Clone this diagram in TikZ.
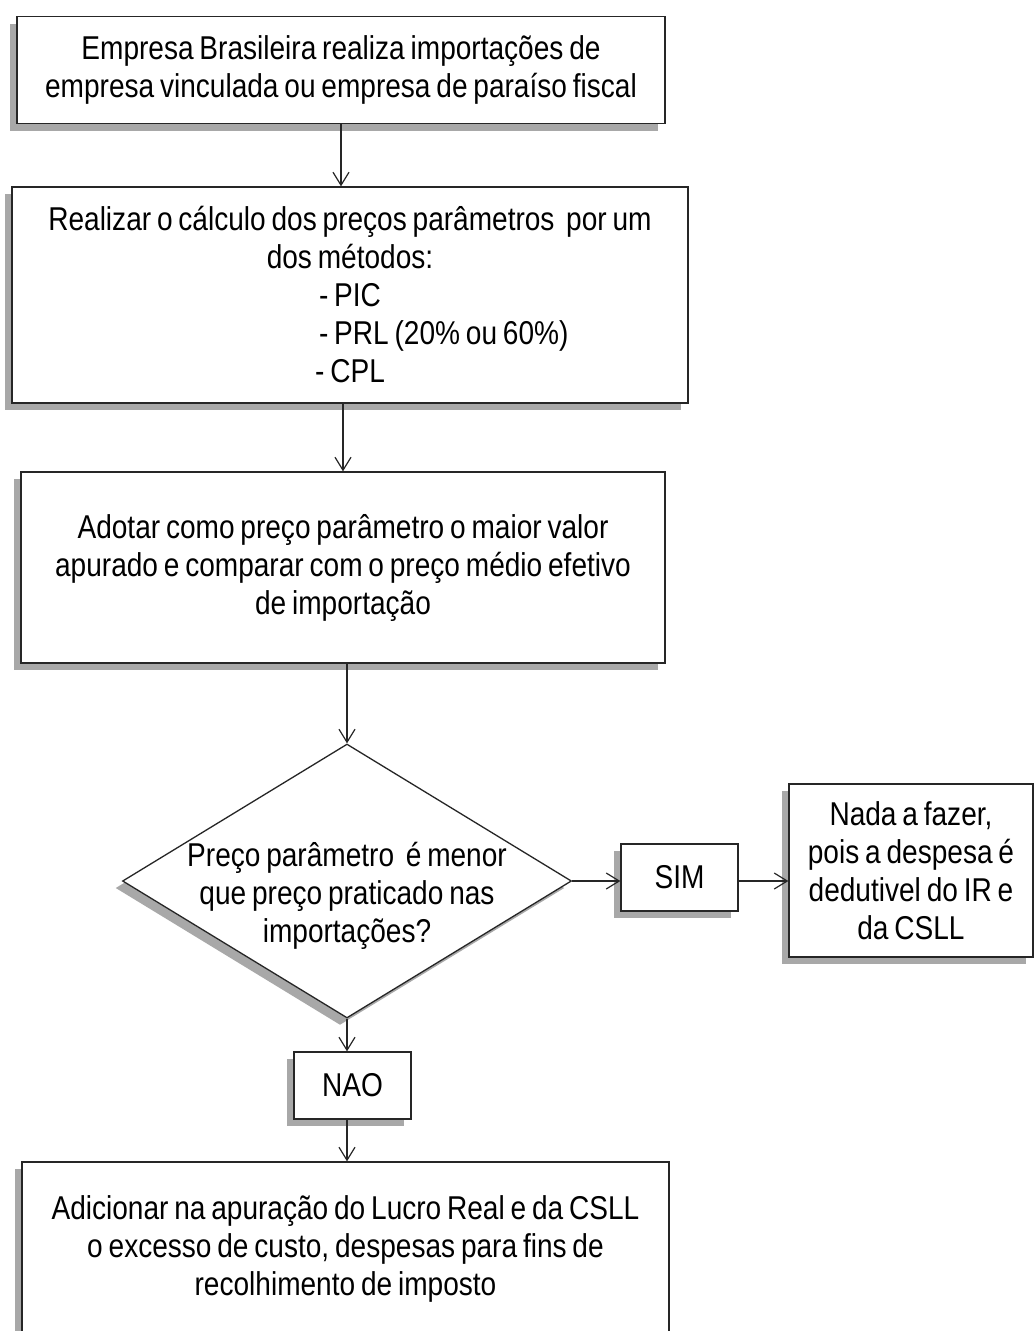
\documentclass[tikz,border=0pt]{standalone}
\usepackage{fontspec}
\setmainfont{Liberation Sans}[FakeStretch=0.85, WordSpace=0.75]
\usetikzlibrary{shapes.geometric,shadows,arrows.meta,calc}
\begin{document}
\begin{tikzpicture}[x=1pt,y=-1pt,
  font=\fontsize{33}{38}\selectfont,
  box/.style={draw=black!85, line width=1.3pt, fill=white, inner sep=0pt, align=center,
    drop shadow={shadow xshift=-7pt, shadow yshift=-7pt, fill=black!45, opacity=0.75}},
  decision/.style={diamond, draw=black!85, line width=1.3pt, fill=white, inner sep=0pt,
    minimum width=449pt, minimum height=274pt,
    drop shadow={shadow xshift=-7pt, shadow yshift=-7pt, fill=black!45, opacity=0.75}},
  arr/.style={draw=black!85, line width=1.2pt, -{Straight Barb[length=13pt,width=16pt,line width=1.2pt]}}
]
\clip (0,0) rectangle (1034,1331);
\fill[white] (0,0) rectangle (1034,1331);

\node[box, minimum width=648pt, minimum height=107pt] (b1) at (341,70)
  {Empresa Brasileira realiza importações de\\empresa vinculada ou empresa de paraíso fiscal};

\node[box, minimum width=676pt, minimum height=216pt] (b2) at (350,295)
  {Realizar o cálculo dos preços parâmetros \ por um\\dos métodos:\\- PIC\\\rlap{- PRL (20\% ou 60\%)}\phantom{- PIC}\\- CPL};

\node[box, minimum width=644pt, minimum height=191pt] (b3) at (343,567.5)
  {Adotar como preço parâmetro o maior valor\\apurado e comparar com o preço médio efetivo\\de importação};

\node[decision, label={[name=dtext, align=center, yshift=-15pt]center:Preço parâmetro \ é menor\\que preço praticado nas\\importações?}] (dec) at (347,881) {};

\node[box, minimum width=117pt, minimum height=67pt] (sim) at (679.5,877.5) {SIM};

\node[box, minimum width=244pt, minimum height=173pt] (nada) at (911,870.5)
  {Nada a fazer,\\pois a despesa é\\dedutivel do IR e\\da CSLL};

\node[box, minimum width=117pt, minimum height=67pt] (nao) at (352.5,1085.5) {NAO};

\node[box, minimum width=647pt, minimum height=220pt] (b5) at (345.5,1272) {};
\node[align=center, anchor=north] (b5text) at (345.5,1192)
  {Adicionar na apuração do Lucro Real e da CSLL\\o excesso de custo, despesas para fins de\\recolhimento de imposto};

\draw[arr] (b1.south) -- (b1.south |- b2.north);
\draw[arr] (b3.north |- b2.south) -- (b3.north);
\draw[arr] (b3.south -| dec.north) -- (dec.north);
\draw[arr] (dec.east) -- (sim.west |- dec.east);
\draw[arr] (sim.east |- dec.east) -- (nada.west |- dec.east);
\draw[arr] (dec.south) -- (dec.south |- nao.north);
\draw[arr] (nao.south -| dec.south) -- (b5.north -| dec.south);
\end{tikzpicture}
\end{document}
